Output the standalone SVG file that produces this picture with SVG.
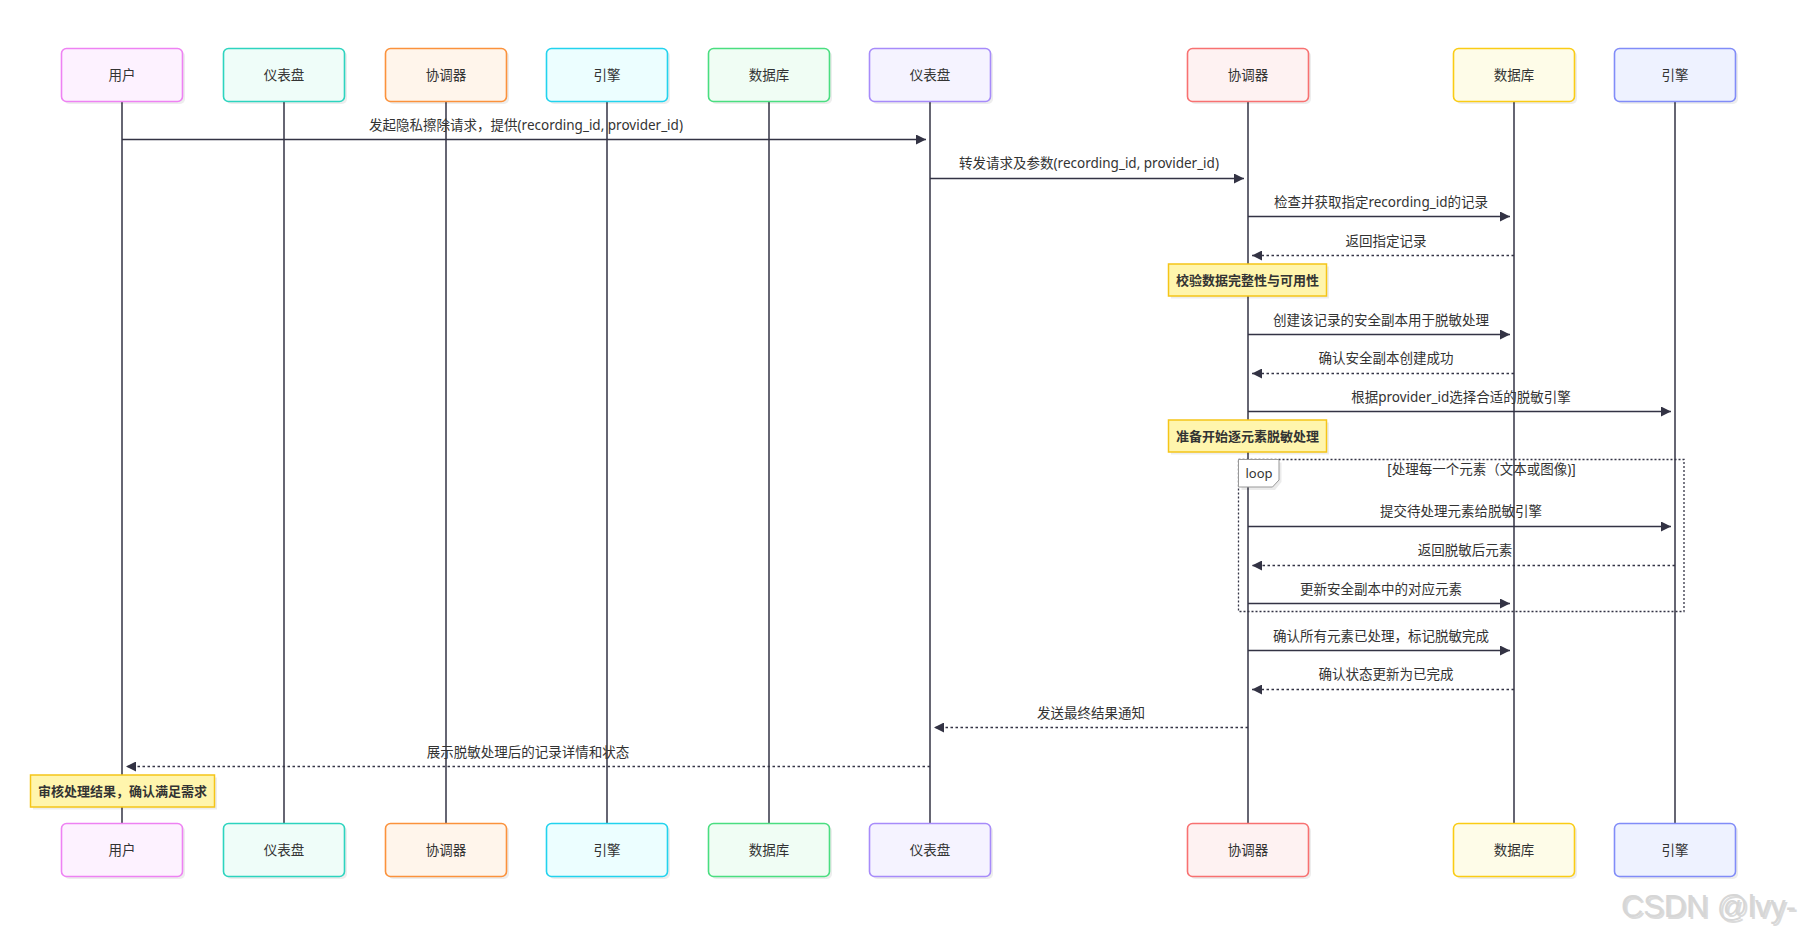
<svg xmlns="http://www.w3.org/2000/svg" width="1805" height="939" viewBox="0 0 1805 939">
<style>
text{font-family:"Noto Sans","Noto Sans CJK SC",sans-serif;fill:#333;}
.at{font-size:13.5px;text-anchor:middle;dominant-baseline:central;}
.mt{font-size:13.5px;text-anchor:middle;}
.nt{font-size:13px;font-weight:bold;text-anchor:middle;dominant-baseline:central;}
.box{stroke-width:1.6;}
.sh{fill:#000;opacity:0.07;}
.life{stroke:#333344;stroke-width:1.5;}
.msg{stroke:#333344;stroke-width:1.5;fill:none;}
.dash{stroke-dasharray:2.5,2.5;}
.note{fill:#fff5ad;stroke:#f5c518;stroke-width:1.5;}
</style>
<defs>
<marker id="ah" markerWidth="12" markerHeight="10" refX="10" refY="5" orient="auto" markerUnits="userSpaceOnUse">
<path d="M0,0 L10,5 L0,10 z" fill="#333344"/>
</marker>
</defs>
<rect width="1805" height="939" fill="#fff"/>
<g id="lifelines">
<line class="life" x1="122" y1="101" x2="122" y2="823"/>
<line class="life" x1="284" y1="101" x2="284" y2="823"/>
<line class="life" x1="446" y1="101" x2="446" y2="823"/>
<line class="life" x1="607" y1="101" x2="607" y2="823"/>
<line class="life" x1="769" y1="101" x2="769" y2="823"/>
<line class="life" x1="930" y1="101" x2="930" y2="823"/>
<line class="life" x1="1248" y1="101" x2="1248" y2="823"/>
<line class="life" x1="1514" y1="101" x2="1514" y2="823"/>
<line class="life" x1="1675" y1="101" x2="1675" y2="823"/>
</g>
<g id="actors-top">
<g id="a-user"><rect class="sh" x="64" y="51" width="121" height="53" rx="5"/><rect class="box" x="61.5" y="48.5" width="121" height="53" rx="5" fill="#fdf2ff" stroke="#ee82f3"/><text class="at" x="122" y="75">用户</text></g>
<g id="a-dash1"><rect class="sh" x="226" y="51" width="121" height="53" rx="5"/><rect class="box" x="223.5" y="48.5" width="121" height="53" rx="5" fill="#effdf9" stroke="#2dd4bf"/><text class="at" x="284" y="75">仪表盘</text></g>
<g id="a-coord1"><rect class="sh" x="388" y="51" width="121" height="53" rx="5"/><rect class="box" x="385.5" y="48.5" width="121" height="53" rx="5" fill="#fff5eb" stroke="#fb923c"/><text class="at" x="446" y="75">协调器</text></g>
<g id="a-eng1"><rect class="sh" x="549" y="51" width="121" height="53" rx="5"/><rect class="box" x="546.5" y="48.5" width="121" height="53" rx="5" fill="#ecfeff" stroke="#22d3ee"/><text class="at" x="607" y="75">引擎</text></g>
<g id="a-db1"><rect class="sh" x="711" y="51" width="121" height="53" rx="5"/><rect class="box" x="708.5" y="48.5" width="121" height="53" rx="5" fill="#f0fdf4" stroke="#4ade80"/><text class="at" x="769" y="75">数据库</text></g>
<g id="a-dash2"><rect class="sh" x="872" y="51" width="121" height="53" rx="5"/><rect class="box" x="869.5" y="48.5" width="121" height="53" rx="5" fill="#f5f3ff" stroke="#a78bfa"/><text class="at" x="930" y="75">仪表盘</text></g>
<g id="a-coord2"><rect class="sh" x="1190" y="51" width="121" height="53" rx="5"/><rect class="box" x="1187.5" y="48.5" width="121" height="53" rx="5" fill="#fef2f2" stroke="#f87171"/><text class="at" x="1248" y="75">协调器</text></g>
<g id="a-db2"><rect class="sh" x="1456" y="51" width="121" height="53" rx="5"/><rect class="box" x="1453.5" y="48.5" width="121" height="53" rx="5" fill="#fefce8" stroke="#facc15"/><text class="at" x="1514" y="75">数据库</text></g>
<g id="a-eng2"><rect class="sh" x="1617" y="51" width="121" height="53" rx="5"/><rect class="box" x="1614.5" y="48.5" width="121" height="53" rx="5" fill="#eef2ff" stroke="#818cf8"/><text class="at" x="1675" y="75">引擎</text></g>
</g>
<g id="actors-bottom">
<g id="b-user"><rect class="sh" x="64" y="826" width="121" height="53" rx="5"/><rect class="box" x="61.5" y="823.5" width="121" height="53" rx="5" fill="#fdf2ff" stroke="#ee82f3"/><text class="at" x="122" y="850">用户</text></g>
<g id="b-dash1"><rect class="sh" x="226" y="826" width="121" height="53" rx="5"/><rect class="box" x="223.5" y="823.5" width="121" height="53" rx="5" fill="#effdf9" stroke="#2dd4bf"/><text class="at" x="284" y="850">仪表盘</text></g>
<g id="b-coord1"><rect class="sh" x="388" y="826" width="121" height="53" rx="5"/><rect class="box" x="385.5" y="823.5" width="121" height="53" rx="5" fill="#fff5eb" stroke="#fb923c"/><text class="at" x="446" y="850">协调器</text></g>
<g id="b-eng1"><rect class="sh" x="549" y="826" width="121" height="53" rx="5"/><rect class="box" x="546.5" y="823.5" width="121" height="53" rx="5" fill="#ecfeff" stroke="#22d3ee"/><text class="at" x="607" y="850">引擎</text></g>
<g id="b-db1"><rect class="sh" x="711" y="826" width="121" height="53" rx="5"/><rect class="box" x="708.5" y="823.5" width="121" height="53" rx="5" fill="#f0fdf4" stroke="#4ade80"/><text class="at" x="769" y="850">数据库</text></g>
<g id="b-dash2"><rect class="sh" x="872" y="826" width="121" height="53" rx="5"/><rect class="box" x="869.5" y="823.5" width="121" height="53" rx="5" fill="#f5f3ff" stroke="#a78bfa"/><text class="at" x="930" y="850">仪表盘</text></g>
<g id="b-coord2"><rect class="sh" x="1190" y="826" width="121" height="53" rx="5"/><rect class="box" x="1187.5" y="823.5" width="121" height="53" rx="5" fill="#fef2f2" stroke="#f87171"/><text class="at" x="1248" y="850">协调器</text></g>
<g id="b-db2"><rect class="sh" x="1456" y="826" width="121" height="53" rx="5"/><rect class="box" x="1453.5" y="823.5" width="121" height="53" rx="5" fill="#fefce8" stroke="#facc15"/><text class="at" x="1514" y="850">数据库</text></g>
<g id="b-eng2"><rect class="sh" x="1617" y="826" width="121" height="53" rx="5"/><rect class="box" x="1614.5" y="823.5" width="121" height="53" rx="5" fill="#eef2ff" stroke="#818cf8"/><text class="at" x="1675" y="850">引擎</text></g>
</g>
<g id="loop">
<rect x="1238.5" y="459.5" width="445.5" height="152" fill="none" stroke="#333344" stroke-width="1.3" stroke-dasharray="2,2"/>
<polygon points="1241.5,462.5 1281.5,462.5 1281.5,482 1275,490 1241.5,490" fill="#000" opacity="0.08"/>
<polygon points="1238.5,459.5 1279,459.5 1279,480 1272.5,487 1238.5,487" fill="#fff" stroke="#999" stroke-width="1"/>
<text x="1259" y="478" style="font-size:13px;text-anchor:middle">loop</text>
<text x="1481.5" y="474" style="font-size:13.5px;text-anchor:middle">[处理每一个元素（文本或图像)]</text>
</g>
<g id="connectors">
<line class="msg" x1="122" y1="139.5" x2="926" y2="139.5" marker-end="url(#ah)"/>
<text class="mt" x="526" y="130">发起隐私擦除请求，提供(recording_id, provider_id)</text>
<line class="msg" x1="930" y1="178.5" x2="1244" y2="178.5" marker-end="url(#ah)"/>
<text class="mt" x="1089" y="168">转发请求及参数(recording_id, provider_id)</text>
<line class="msg" x1="1248" y1="216.5" x2="1510" y2="216.5" marker-end="url(#ah)"/>
<text class="mt" x="1381" y="207">检查并获取指定recording_id的记录</text>
<line class="msg dash" x1="1514" y1="255.5" x2="1252" y2="255.5" marker-end="url(#ah)"/>
<text class="mt" x="1386" y="246">返回指定记录</text>
<line class="msg" x1="1248" y1="334.5" x2="1510" y2="334.5" marker-end="url(#ah)"/>
<text class="mt" x="1381" y="325">创建该记录的安全副本用于脱敏处理</text>
<line class="msg dash" x1="1514" y1="373.5" x2="1252" y2="373.5" marker-end="url(#ah)"/>
<text class="mt" x="1386" y="363">确认安全副本创建成功</text>
<line class="msg" x1="1248" y1="411.5" x2="1671" y2="411.5" marker-end="url(#ah)"/>
<text class="mt" x="1461" y="402">根据provider_id选择合适的脱敏引擎</text>
<line class="msg" x1="1248" y1="526.5" x2="1671" y2="526.5" marker-end="url(#ah)"/>
<text class="mt" x="1461" y="516">提交待处理元素给脱敏引擎</text>
<line class="msg dash" x1="1675" y1="565.5" x2="1252" y2="565.5" marker-end="url(#ah)"/>
<text class="mt" x="1465" y="555">返回脱敏后元素</text>
<line class="msg" x1="1248" y1="603.5" x2="1510" y2="603.5" marker-end="url(#ah)"/>
<text class="mt" x="1381" y="594">更新安全副本中的对应元素</text>
<line class="msg" x1="1248" y1="650.5" x2="1510" y2="650.5" marker-end="url(#ah)"/>
<text class="mt" x="1381" y="641">确认所有元素已处理，标记脱敏完成</text>
<line class="msg dash" x1="1514" y1="689.5" x2="1252" y2="689.5" marker-end="url(#ah)"/>
<text class="mt" x="1386" y="679">确认状态更新为已完成</text>
<line class="msg dash" x1="1248" y1="727.5" x2="934" y2="727.5" marker-end="url(#ah)"/>
<text class="mt" x="1091" y="718">发送最终结果通知</text>
<line class="msg dash" x1="930" y1="766.5" x2="126" y2="766.5" marker-end="url(#ah)"/>
<text class="mt" x="528" y="757">展示脱敏处理后的记录详情和状态</text>
</g>
<g id="notes">
<g id="n1"><rect x="1171" y="266.5" width="158" height="32" fill="#000" opacity="0.07"/><rect class="note" x="1168.5" y="264" width="158" height="32"/><text class="nt" x="1247.5" y="280">校验数据完整性与可用性</text></g>
<g id="n2"><rect x="1171" y="422.5" width="158" height="32" fill="#000" opacity="0.07"/><rect class="note" x="1168.5" y="420" width="158" height="32"/><text class="nt" x="1247.5" y="436">准备开始逐元素脱敏处理</text></g>
<g id="n3"><rect x="33" y="777.5" width="184" height="32" fill="#000" opacity="0.07"/><rect class="note" x="30.5" y="775" width="184" height="32"/><text class="nt" x="122.5" y="791">审核处理结果，确认满足需求</text></g>
</g>
<g id="watermark">
<text x="1623" y="919" style="font-family:'Liberation Sans',sans-serif;font-size:32px;fill:#999;opacity:0.35" textLength="175" lengthAdjust="spacingAndGlyphs">CSDN @lvy-</text>
<text x="1621" y="917" style="font-family:'Liberation Sans',sans-serif;font-size:32px;fill:#d6d6d6" textLength="175" lengthAdjust="spacingAndGlyphs">CSDN @lvy-</text>
</g>
</svg>
